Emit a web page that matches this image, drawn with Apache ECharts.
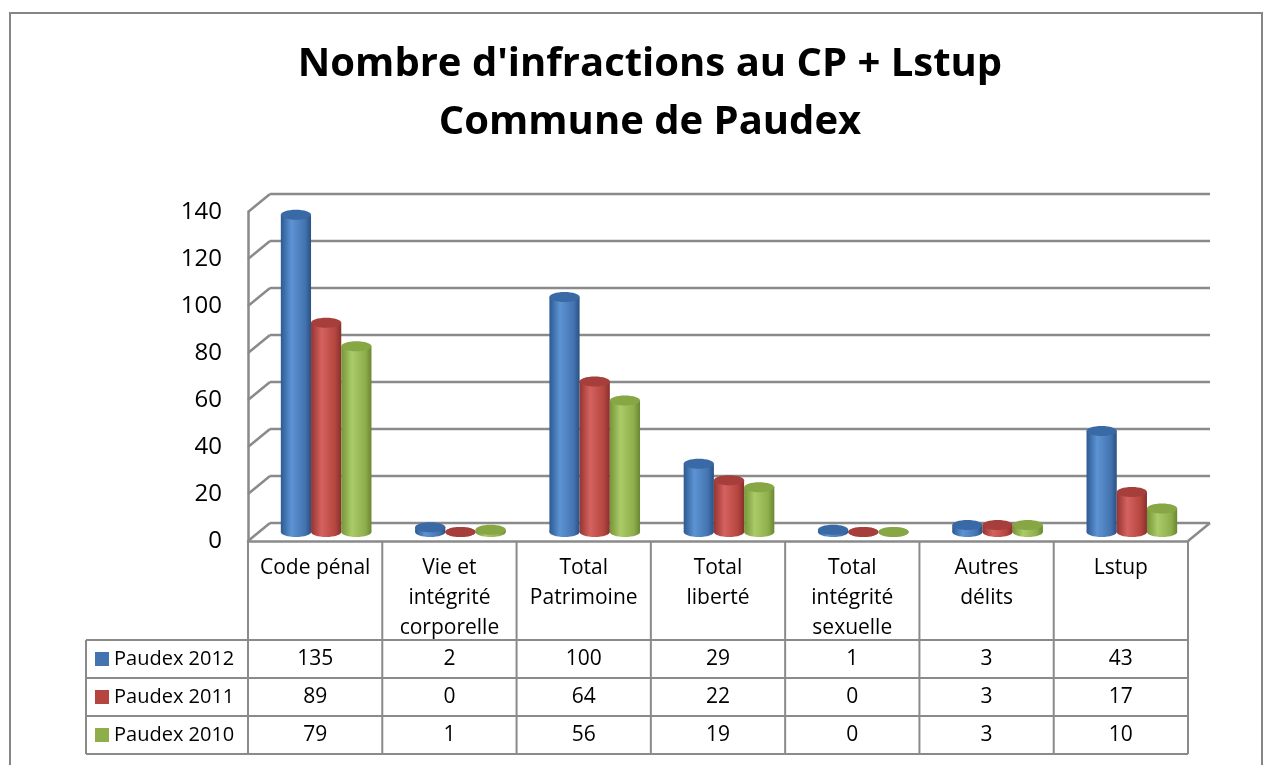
<!DOCTYPE html>
<html>
<head>
<meta charset="utf-8">
<script src="https://cdn.jsdelivr.net/npm/echarts@6/dist/echarts.min.js"></script>
<style>
  html, body { margin: 0; padding: 0; background: #fff; }
  #chart { width: 1265px; height: 765px; }
</style>
</head>
<body>
<div id="chart"></div>
<script>
// data
const categories = ['Code pénal', 'Vie et\nintégrité\ncorporelle', 'Total\nPatrimoine', 'Total\nliberté', 'Total\nintégrité\nsexuelle', 'Autres\ndélits', 'Lstup'];
const seriesNames = ['Paudex 2012', 'Paudex 2011', 'Paudex 2010'];
const paudex2012 = [135, 2, 100, 29, 1, 3, 43];
const paudex2011 = [89, 0, 64, 22, 0, 3, 17];
const paudex2010 = [79, 1, 56, 19, 0, 3, 10];
const yTicks = [0, 20, 40, 60, 80, 100, 120, 140];

// layout
const FRONT = { left: 248, top: 212, width: 940, height: 329 };
const DX = 22, DY = -18;          // depth of the 3d box
const LINE = '#8a8a8a';
const FONT = 'Open Sans';

// office 2007 palette, [left edge, highlight, mid, right edge, top]
const palettes = [
  ['#2c5a92', '#5d93d4', '#4474b0', '#2a5183', '#3a6aa6'],
  ['#953532', '#d5625f', '#b5453f', '#86302d', '#a63f3b'],
  ['#769538', '#aacb68', '#8dae4a', '#6a8732', '#86a744']
];
const seriesData = [paudex2012, paudex2011, paudex2010];

const chart = echarts.init(document.getElementById('chart'));

function bodyFill(p) {
  return new echarts.graphic.LinearGradient(0, 0, 1, 0, [
    { offset: 0, color: p[0] },
    { offset: 0.35, color: p[1] },
    { offset: 0.8, color: p[2] },
    { offset: 1, color: p[3] }
  ]);
}

function cylinder(idx) {
  const p = palettes[idx];
  return function (params, api) {
    const band = api.size([1, 0])[0];
    const w = band * 0.225;
    const top = api.coord([api.value(0), api.value(1)]);
    const base = api.coord([api.value(0), 0]);
    const cx = top[0] + (idx - 1) * w + DX / 2;
    const yTop = top[1] + DY / 2;
    const yBase = base[1] + DY / 2;
    const ry = 5;
    return {
      type: 'group',
      children: [
        { type: 'ellipse', shape: { cx: cx, cy: yBase, rx: w / 2, ry: ry }, style: { fill: bodyFill(p) } },
        { type: 'rect', shape: { x: cx - w / 2, y: yTop, width: w, height: yBase - yTop }, style: { fill: bodyFill(p) } },
        { type: 'ellipse', shape: { cx: cx, cy: yTop, rx: w / 2, ry: ry }, style: { fill: p[4] } }
      ]
    };
  };
}

// walls: left diagonals, back gridlines, floor right edge
function walls(params, api) {
  const cs = params.coordSys;
  const y = api.coord([0, api.value(1)])[1];
  const st = { stroke: LINE, lineWidth: 2.5 };
  const kids = [
    { type: 'line', shape: { x1: cs.x, y1: y, x2: cs.x + DX, y2: y + DY }, style: st },
    { type: 'line', shape: { x1: cs.x + DX, y1: y + DY, x2: cs.x + cs.width + DX, y2: y + DY }, style: st }
  ];
  if (api.value(1) === 0) {
    kids.push({ type: 'line', shape: { x1: cs.x + cs.width, y1: y, x2: cs.x + cs.width + DX, y2: y + DY }, style: st });
  }
  return { type: 'group', children: kids };
}

// data table under the plot
function tableGraphics() {
  const els = [];
  const colW = FRONT.width / categories.length;
  const x0 = FRONT.left;
  const yHead = FRONT.top + FRONT.height;
  const rowTop = 640, rowH = 38, legLeft = 86;
  const yEnd = rowTop + rowH * seriesNames.length;
  const st = { stroke: LINE, lineWidth: 2 };
  for (let i = 0; i <= categories.length; i++) {
    els.push({ type: 'line', shape: { x1: x0 + i * colW, y1: yHead, x2: x0 + i * colW, y2: yEnd }, style: st });
  }
  els.push({ type: 'line', shape: { x1: legLeft, y1: rowTop, x2: legLeft, y2: yEnd }, style: st });
  for (let r = 0; r <= seriesNames.length; r++) {
    const y = rowTop + r * rowH;
    els.push({ type: 'line', shape: { x1: legLeft, y1: y, x2: x0 + FRONT.width, y2: y }, style: st });
  }
  categories.forEach(function (c, i) {
    els.push({ type: 'text', style: {
      text: c, x: x0 + (i + 0.5) * colW, y: yHead + 12, align: 'center', verticalAlign: 'top',
      font: '21px "' + FONT + '"', lineHeight: 30, fill: '#000'
    } });
  });
  seriesNames.forEach(function (name, r) {
    const cy = rowTop + (r + 0.5) * rowH;
    els.push({ type: 'rect', shape: { x: 95, y: cy - 7, width: 14, height: 14 }, style: { fill: palettes[r][2] } });
    els.push({ type: 'text', style: { text: name, x: 114, y: cy, verticalAlign: 'middle', font: '20px "' + FONT + '"', fill: '#000' } });
    seriesData[r].forEach(function (v, i) {
      els.push({ type: 'text', style: {
        text: String(v), x: x0 + (i + 0.5) * colW, y: cy, align: 'center', verticalAlign: 'middle',
        font: '21px "' + FONT + '"', fill: '#000'
      } });
    });
  });
  return els;
}

const option = {
  animation: false,
  backgroundColor: '#fff',
  title: {
    text: "Nombre d'infractions au CP + Lstup\nCommune de Paudex",
    left: 645,
    top: 31,
    textAlign: 'center',
    textStyle: { fontFamily: FONT, fontWeight: 'bold', fontSize: 40, lineHeight: 58, color: '#000' }
  },
  grid: { left: FRONT.left, top: FRONT.top, width: FRONT.width, height: FRONT.height },
  xAxis: {
    type: 'category',
    data: categories,
    axisLine: { show: true, lineStyle: { color: LINE, width: 2.5 } },
    axisTick: { show: false },
    axisLabel: { show: false }
  },
  yAxis: {
    type: 'value',
    min: 0,
    max: 140,
    interval: 20,
    axisLine: { show: true, lineStyle: { color: LINE, width: 2.5 } },
    axisTick: { show: false },
    splitLine: { show: false },
    axisLabel: { fontFamily: FONT, fontSize: 24, color: '#000', margin: 26 }
  },
  series: [
    { type: 'custom', name: 'walls', renderItem: walls, data: yTicks.map(function (v) { return [0, v]; }), z: 1, silent: true }
  ].concat(seriesNames.map(function (name, idx) {
    return {
      type: 'custom',
      name: name,
      renderItem: cylinder(idx),
      data: seriesData[idx].map(function (v, i) { return [i, v]; }),
      z: 5
    };
  })),
  graphic: [
    { type: 'rect', shape: { x: 10, y: 13, width: 1252, height: 800 }, style: { fill: 'none', stroke: '#868686', lineWidth: 2 }, z: 0 }
  ].concat(tableGraphics())
};

chart.setOption(option);
</script>
</body>
</html>
